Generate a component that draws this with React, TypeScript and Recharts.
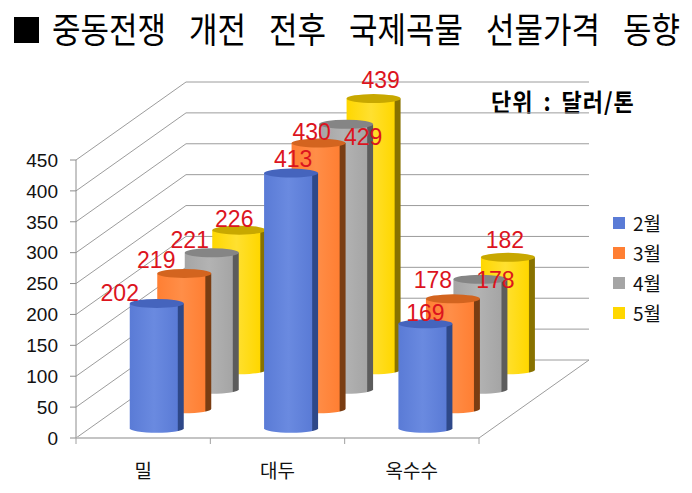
import React from 'react';
import { BarChart, Bar, XAxis, YAxis, CartesianGrid, LabelList } from 'recharts';

const categories = ['밀', '대두', '옥수수'];
const months = ['2월', '3월', '4월', '5월'];
const feb = [202, 413, 169];
const mar = [219, 430, 178];
const apr = [221, 429, 178];
const may = [226, 439, 182];
const yTicks = [0, 50, 100, 150, 200, 250, 300, 350, 400, 450];

const seriesValues = [feb, mar, apr, may];
const data = categories.map((name, i) => {
  const row: Record<string, string | number> = { name };
  seriesValues.forEach((vals, k) => {
    row[`m${k}`] = vals[i];
  });
  return row;
});

// body / highlight / dark side / top cap
const PALETTE = [
  { body: '#5A7BD6', light: '#6A8AE0', side: '#2E4889', top: '#4564BD' },
  { body: '#FF7F33', light: '#FF8E48', side: '#7A3D12', top: '#D3641F' },
  { body: '#A5A5A5', light: '#B3B3B3', side: '#5C5C5C', top: '#858585' },
  { body: '#FFD700', light: '#FFE030', side: '#887200', top: '#C8A800' },
];

const W = 692;
const H = 493;
const PLOT_LEFT = 76;
const PLOT_RIGHT = 479;
const PLOT_TOP = 160;
const PLOT_BOTTOM = 438;
const DEPTH_X = 110;
const DEPTH_Y = 78;
const STEP_X = DEPTH_X / months.length;
const STEP_Y = DEPTH_Y / months.length;
const BAND = (PLOT_RIGHT - PLOT_LEFT) / categories.length;
const GRID = '#9c9c9c';
const KR = '"Noto Sans CJK KR", "Noto Sans", sans-serif';

// label nudges (dx, dy) from the cap centre, per month then per crop
const LABEL_NUDGE = [
  [[-37, -10], [2, -14], [0, -11]],
  [[-28, -13], [-7, -11], [-20, -19]],
  [[-22, -13], [17, 13], [15, 1]],
  [[-5, -11], [7, -19], [-3, -17]],
];

const makeCylinder = (k: number) => (props: any) => {
  const { x, y, width, height } = props;
  if (x == null || height == null) return <g />;
  const dx = (k + 0.5) * STEP_X;
  const dy = (k + 0.5) * STEP_Y;
  const left = x + dx;
  const right = x + width + dx;
  const top = y - dy;
  const bottom = y + height - dy;
  const rx = width / 2;
  const ry = 4.5;
  return (
    <g>
      <path
        d={`M${left},${top} L${left},${bottom} A${rx},${ry} 0 0 0 ${right},${bottom} L${right},${top} Z`}
        fill={`url(#cyl${k})`}
      />
      <ellipse cx={left + rx} cy={top} rx={rx} ry={ry} fill={PALETTE[k].top} />
    </g>
  );
};

const makeLabel = (k: number) => (props: any) => {
  const vb = props.viewBox ?? props;
  const x = vb.x ?? props.x;
  const y = vb.y ?? props.y;
  const width = vb.width ?? props.width;
  const i = props.index ?? 0;
  const [nx, ny] = LABEL_NUDGE[k][i] ?? [0, -12];
  const cx = x + width / 2 + (k + 0.5) * STEP_X + nx;
  const cy = y - (k + 0.5) * STEP_Y + ny;
  return (
    <text
      x={cx}
      y={cy}
      textAnchor="middle"
      dominantBaseline="central"
      fill="#DC141E"
      fontSize={23}
      fontFamily='"Liberation Sans", Arial, sans-serif'
    >
      {props.value}
    </text>
  );
};

const renderGridLine = (props: any) => {
  const { x1, y1, x2 } = props;
  const by = y1 - DEPTH_Y;
  const isFloor = Math.abs(y1 - PLOT_BOTTOM) < 1;
  return (
    <g key={`g-${y1}`}>
      <polyline
        points={`${x1},${y1} ${x1 + DEPTH_X},${by} ${x2 + DEPTH_X},${by}`}
        fill="none"
        stroke={GRID}
        strokeWidth={1}
      />
      {isFloor && <line x1={x2} y1={y1} x2={x2 + DEPTH_X} y2={by} stroke={GRID} strokeWidth={1} />}
    </g>
  );
};

const CategoryTick = (props: any) => {
  const { x, payload, index } = props;
  const last = index === categories.length - 1;
  return (
    <g>
      <line x1={x - BAND / 2} y1={PLOT_BOTTOM} x2={x - BAND / 2} y2={PLOT_BOTTOM + 6} stroke="#a0a0a0" />
      {last && <line x1={x + BAND / 2} y1={PLOT_BOTTOM} x2={x + BAND / 2} y2={PLOT_BOTTOM + 6} stroke="#a0a0a0" />}
      <text x={x} y={PLOT_BOTTOM + 31} textAnchor="middle" dominantBaseline="central" fontSize={19} fill="#111" fontFamily={KR}>
        {payload.value}
      </text>
    </g>
  );
};

export default function App() {
  return (
    <div style={{ position: 'absolute', left: 0, top: 0, width: W, height: H, background: '#fff', fontFamily: KR }}>
      <div style={{ position: 'absolute', left: 14, top: 17, width: 25, height: 26, background: '#000' }} />
      <div
        style={{
          position: 'absolute',
          left: 52,
          top: 5,
          fontSize: 31,
          lineHeight: '40px',
          wordSpacing: 16,
          color: '#000',
          whiteSpace: 'nowrap',
          transform: 'scale(1, 1.15)',
          transformOrigin: 'left top',
        }}
      >
        중동전쟁 개전 전후 국제곡물 선물가격 동향
      </div>
      <div
        style={{
          position: 'absolute',
          left: 491,
          top: 83,
          fontSize: 22,
          fontWeight: 700,
          lineHeight: '30px',
          color: '#000',
          whiteSpace: 'nowrap',
          letterSpacing: 1,
          wordSpacing: 4,
          transform: 'scale(1, 1.1)',
          transformOrigin: 'left top',
        }}
      >
        단위 : 달러/톤
      </div>
      <BarChart width={W} height={H} data={data} margin={{ top: PLOT_TOP, right: W - PLOT_RIGHT, bottom: 0, left: 20 }}>
        <defs>
          {PALETTE.map((p, k) => (
            <linearGradient key={k} id={`cyl${k}`} x1="0" y1="0" x2="1" y2="0">
              <stop offset="0%" stopColor={p.body} />
              <stop offset="45%" stopColor={p.light} />
              <stop offset="88%" stopColor={p.body} />
              <stop offset="90%" stopColor={p.side} />
              <stop offset="100%" stopColor={p.side} />
            </linearGradient>
          ))}
        </defs>
        <CartesianGrid vertical={false} horizontal={renderGridLine} />
        <XAxis
          xAxisId={0}
          dataKey="name"
          height={H - PLOT_BOTTOM}
          interval={0}
          axisLine={{ stroke: '#c4c4c4', strokeWidth: 2 }}
          tickLine={false}
          tick={<CategoryTick />}
        />
        <XAxis xAxisId={1} dataKey="name" hide />
        <XAxis xAxisId={2} dataKey="name" hide />
        <XAxis xAxisId={3} dataKey="name" hide />
        <YAxis
          domain={[0, 450]}
          ticks={yTicks}
          interval={0}
          width={56}
          tickSize={6}
          tickMargin={12}
          axisLine={{ stroke: '#8c8c8c' }}
          tickLine={{ stroke: '#8c8c8c' }}
          tick={{ fontSize: 19, fill: '#111', fontFamily: '"Liberation Sans", Arial, sans-serif' }}
        />
        {[3, 2, 1, 0].map((k) => (
          <Bar
            key={k}
            xAxisId={k}
            dataKey={`m${k}`}
            name={months[k]}
            barSize={54}
            shape={makeCylinder(k)}
            isAnimationActive={false}
          >
            <LabelList dataKey={`m${k}`} content={makeLabel(k)} />
          </Bar>
        ))}
      </BarChart>
      <div style={{ position: 'absolute', left: 613, top: 208 }}>
        {months.map((m, k) => (
          <div key={m} style={{ display: 'flex', alignItems: 'center', height: 30 }}>
            <div style={{ width: 12, height: 12, background: PALETTE[k].body, marginRight: 8 }} />
            <span style={{ fontSize: 19, color: '#111', lineHeight: '30px' }}>{m}</span>
          </div>
        ))}
      </div>
    </div>
  );
}
